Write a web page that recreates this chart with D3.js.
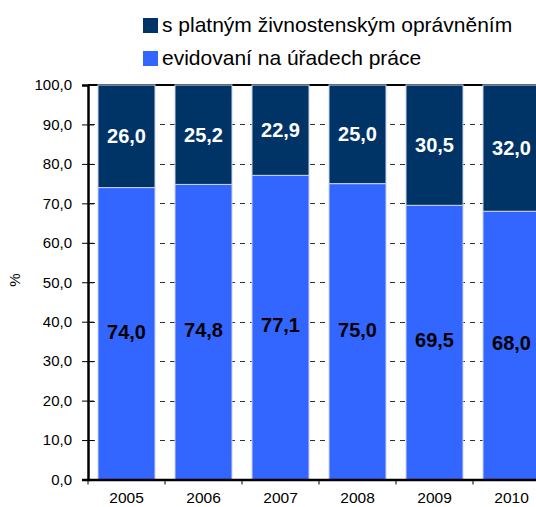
<!DOCTYPE html>
<html>
<head>
<meta charset="utf-8">
<script src="https://cdn.jsdelivr.net/npm/d3@7"></script>
<style>
  body { margin: 0; background: #fff; }
  svg { display: block; font-family: "Liberation Sans", Arial, sans-serif; }
</style>
</head>
<body>
<script>
// data
var years = ["2005", "2006", "2007", "2008", "2009", "2010"];
var urady = [74.0, 74.8, 77.1, 75.0, 69.5, 68.0];     // evidovaní na úřadech práce
var zivnost = [26.0, 25.2, 22.9, 25.0, 30.5, 32.0];   // s platným živnostenským oprávněním
var yTicks = [0, 10, 20, 30, 40, 50, 60, 70, 80, 90, 100];
var seriesNames = ["s platným živnostenským oprávněním", "evidovaní na úřadech práce"];

var svgWidth = 536;
var svgHeight = 507;

var colorTop = "#003366";
var colorBottom = "#3366ff";

var svg = d3.select("body")
  .append("svg")
  .attr("width", svgWidth)
  .attr("height", svgHeight);

// plot runs past the right edge, like in the original
var x = d3.scaleBand()
  .domain(years)
  .range([88, 88 + 6 * 77])
  .paddingInner(0.26)
  .paddingOuter(0.13);

var y = d3.scaleLinear()
  .domain([0, 100])
  .range([479.5, 85]);

var fmt = function (d) { return d3.format(".1f")(d).replace(".", ","); };

// dashed gridlines
svg.append("g")
  .selectAll("line")
  .data(yTicks.filter(d => d > 0 && d < 100))
  .enter()
  .append("line")
  .attr("x1", 90)
  .attr("x2", svgWidth)
  .attr("y1", d => Math.round(y(d)) + 0.5)
  .attr("y2", d => Math.round(y(d)) + 0.5)
  .attr("stroke", "#333")
  .attr("stroke-dasharray", "5,5");

// top border line
svg.append("line")
  .attr("x1", 88)
  .attr("x2", svgWidth)
  .attr("y1", y(100))
  .attr("y2", y(100))
  .attr("stroke", "#000")
  .attr("stroke-width", 2);

var bars = svg.append("g");

// bottom segment
bars.selectAll(".low")
  .data(years)
  .enter()
  .append("rect")
  .attr("x", d => x(d))
  .attr("width", x.bandwidth())
  .attr("y", (d, i) => y(urady[i]))
  .attr("height", (d, i) => y(0) - y(urady[i]))
  .attr("fill", colorBottom)
  .attr("stroke", "#c9d3ea")
  .attr("stroke-width", 1);

// top segment
bars.selectAll(".high")
  .data(years)
  .enter()
  .append("rect")
  .attr("x", d => x(d))
  .attr("width", x.bandwidth())
  .attr("y", y(100))
  .attr("height", (d, i) => y(urady[i]) - y(100))
  .attr("fill", colorTop)
  .attr("stroke", "#c9d3ea")
  .attr("stroke-width", 1);

// value labels
bars.selectAll(".lblLow")
  .data(years)
  .enter()
  .append("text")
  .attr("x", d => x(d) + x.bandwidth() / 2)
  .attr("y", (d, i) => y(urady[i] / 2) - 2)
  .attr("dy", "0.35em")
  .attr("text-anchor", "middle")
  .attr("font-size", 20)
  .attr("font-weight", "bold")
  .attr("fill", "#000")
  .text((d, i) => fmt(urady[i]));

bars.selectAll(".lblHigh")
  .data(years)
  .enter()
  .append("text")
  .attr("x", d => x(d) + x.bandwidth() / 2)
  .attr("y", (d, i) => y(urady[i] + zivnost[i] / 2))
  .attr("dy", "0.35em")
  .attr("text-anchor", "middle")
  .attr("font-size", 20)
  .attr("font-weight", "bold")
  .attr("fill", "#fff")
  .text((d, i) => fmt(zivnost[i]));

// y axis
var leftAxis = d3.axisLeft(y)
  .tickValues(yTicks)
  .tickFormat(fmt)
  .tickSize(6)
  .tickPadding(10);

var yAxis = svg.append("g")
  .attr("transform", "translate(88,0)")
  .call(leftAxis);
yAxis.select(".domain").attr("stroke-width", 2.5);
yAxis.selectAll(".tick line").attr("x2", 6).attr("x1", -6);
yAxis.selectAll("text").attr("font-size", 15).attr("fill", "#000");
yAxis.attr("font-family", null);

// x axis
var bottomAxis = d3.axisBottom(x)
  .tickSize(0)
  .tickPadding(12);

var xAxis = svg.append("g")
  .attr("transform", `translate(0, ${y(0)})`)
  .call(bottomAxis);
xAxis.select(".domain").attr("stroke-width", 2.5);
xAxis.selectAll("text").attr("font-size", 15.5).attr("fill", "#000");
xAxis.attr("font-family", null);

// category boundary ticks
var step = x.step();
xAxis.selectAll(".bound")
  .data(years)
  .enter()
  .append("line")
  .attr("x1", d => x(d) - (step - x.bandwidth()) / 2)
  .attr("x2", d => x(d) - (step - x.bandwidth()) / 2)
  .attr("y1", 0)
  .attr("y2", 5)
  .attr("stroke", "#000");

// y axis title
svg.append("text")
  .attr("transform", "translate(20,280) rotate(-90)")
  .attr("text-anchor", "middle")
  .attr("font-size", 15)
  .text("%");

// legend
var legend = svg.append("g").attr("transform", "translate(143,0)");
var legendColors = [colorTop, colorBottom];
var legendY = [18, 51];

legend.selectAll("rect")
  .data(seriesNames)
  .enter()
  .append("rect")
  .attr("x", 0)
  .attr("y", (d, i) => legendY[i])
  .attr("width", 15)
  .attr("height", 15)
  .attr("fill", (d, i) => legendColors[i]);

legend.selectAll("text")
  .data(seriesNames)
  .enter()
  .append("text")
  .attr("x", 19)
  .attr("y", (d, i) => legendY[i] + 14)
  .attr("font-size", 21)
  .attr("fill", "#000")
  .text(d => d);
</script>
</body>
</html>
